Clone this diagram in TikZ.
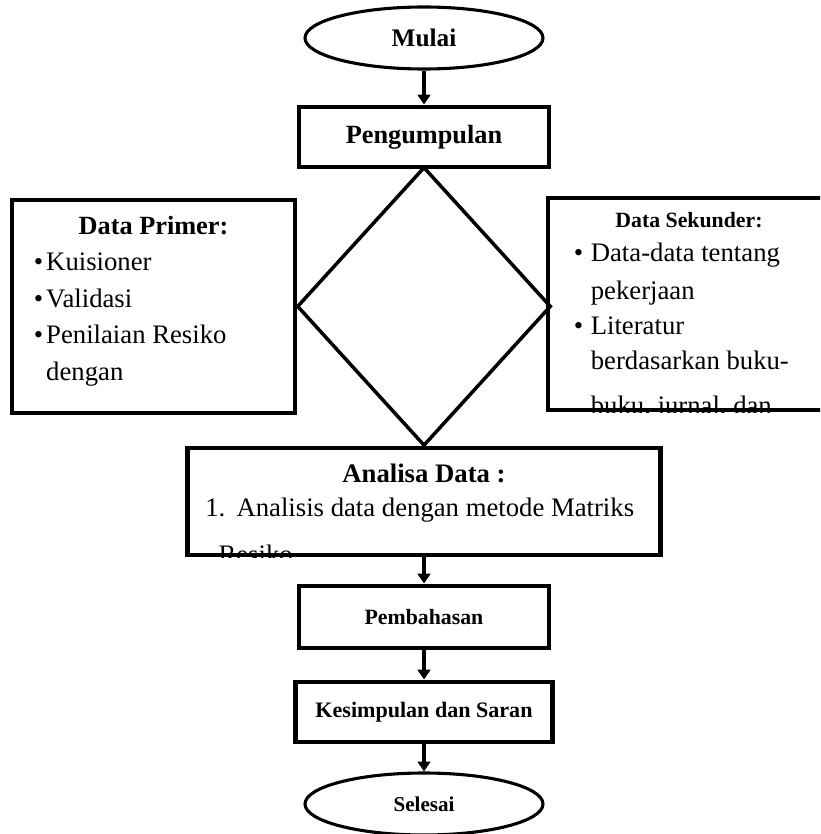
\documentclass[tikz,border=0pt]{standalone}
\usepackage{fontspec}
\setmainfont{Liberation Serif}
\usetikzlibrary{shapes.geometric,arrows.meta}
\begin{document}
\begin{tikzpicture}[
	kotak/.style={draw,line width=3.5pt,shape=rectangle,inner sep=0pt},
	oval/.style={draw,line width=2.2pt,shape=ellipse,minimum width=5.95cm,minimum height=1.55cm},
	panah/.style={line width=3pt,-{Triangle[length=7pt,width=9pt]}},
	isi/.style={inner sep=0pt,font=\fontsize{19}{24}\selectfont},
	judul/.style={inner sep=0pt,font=\bfseries\fontsize{#1}{22}\selectfont},
	]
	\useasboundingbox (0,0) rectangle (20.5,-20.85);
	\clip (0,0) rectangle (20.5,-20.85);
	\node[oval,name=mulai,judul=18] at (10.6,-0.95) {Mulai};
	\node[kotak,name=peng,minimum width=6.25cm,minimum height=1.5cm,judul=18.7] at (10.6,-3.425) {Pengumpulan};
	\node[draw,shape=diamond,name=pilih,line width=2.5pt,minimum width=6.35cm,minimum height=6.975cm,inner sep=0pt] at (10.6,-7.66) {};
	\node[kotak,name=primer,minimum width=7.075cm,minimum height=5.325cm] at (3.8375,-7.6625) {};
	\node[judul=18.7,anchor=base,yshift=-0.925cm] at (primer.north) {Data Primer:};
	\foreach \b/\t [count=\i] in {\textbullet/Kuisioner,\textbullet/Validasi,\textbullet/Penilaian Resiko,/dengan}{
		\node[isi,anchor=base west,xshift=0.6cm,yshift=-0.9cm-0.92cm*\i] at (primer.north west) {\makebox[0.31cm][l]{\b}\t};
	};
	\node[kotak,name=sekunder,minimum width=7.05cm,minimum height=5.3cm] at (17.225,-7.6) {};
	\node[judul=15.5,anchor=base,yshift=-0.8cm] at (sekunder.north) {Data Sekunder:};
	\begin{scope}
		\clip (sekunder.north west) rectangle (sekunder.south east);
		\foreach \b/\t/\y in {\textbullet/Data-data tentang/1.65,/pekerjaan/2.6,\textbullet/Literatur/3.475,/berdasarkan buku-/4.35,/{buku, jurnal, dan}/5.47}{
			\node[isi,anchor=base west,xshift=0.7cm,yshift=-\y cm] at (sekunder.north west) {\makebox[0.425cm][l]{\b}\t};
		};
	\end{scope}
	\node[kotak,name=analisa,minimum width=11.825cm,minimum height=2.675cm] at (10.6,-12.5375) {};
	\node[judul=19,anchor=base,yshift=-0.925cm] at (analisa.north) {Analisa Data :};
	\begin{scope}
		\clip (analisa.north west) rectangle (analisa.south east);
		\node[isi,anchor=base west,xshift=0.5cm,yshift=-1.78cm] at (analisa.north west) {\makebox[0.78cm][l]{1.}Analisis data dengan metode Matriks};
		\node[isi,anchor=base west,xshift=0.83cm,yshift=-2.95cm] at (analisa.north west) {Resiko};
	\end{scope}
	\node[kotak,name=pemb,minimum width=6.25cm,minimum height=1.55cm,judul=15.5] at (10.6,-15.425) {Pembahasan};
	\node[kotak,name=kesim,minimum width=6.425cm,minimum height=1.5cm,judul=15.7] at (10.6,-17.8) {Kesimpulan dan Saran};
	\node[oval,name=selesai,judul=15] at (10.6,-20.1) {Selesai};
	\foreach \a/\b in {mulai/peng,analisa/pemb,pemb/kesim,kesim/selesai}{
		\draw[panah] (\a.south)--(\b.north);
	};
\end{tikzpicture}
\end{document}
